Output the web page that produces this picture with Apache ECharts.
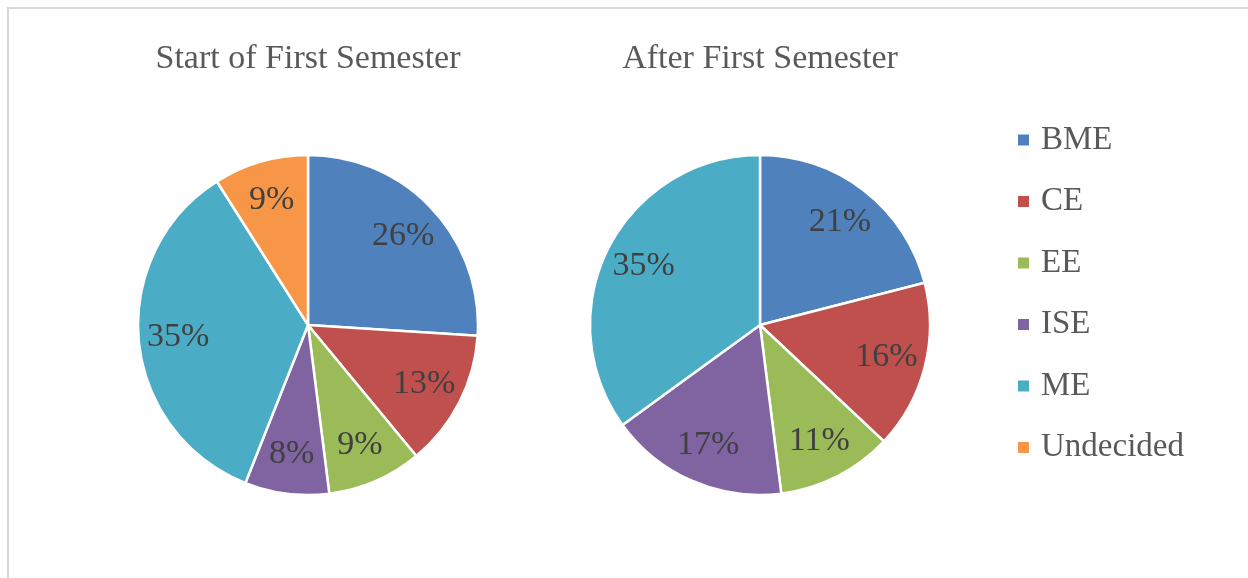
<!DOCTYPE html>
<html>
<head>
<meta charset="utf-8">
<script src="https://cdn.jsdelivr.net/npm/echarts@6/dist/echarts.min.js"></script>
<style>
  body { margin: 0; background: #fff; overflow: hidden; }
  #frame { position: absolute; left: 7px; top: 7px; width: 1400px; height: 700px;
           border-top: 2px solid #d9d9d9; border-left: 2px solid #d9d9d9; }
  #chart { position: absolute; left: 0; top: 0; width: 1248px; height: 578px; }
</style>
</head>
<body>
<div id="frame"></div>
<div id="chart"></div>
<script>
// majors and shares (percent)
var majors = ['BME', 'CE', 'EE', 'ISE', 'ME', 'Undecided'];
var startVals = [26, 13, 9, 8, 35, 9];
var afterVals = [21, 16, 11, 17, 35, 0];
var titles = ['Start of First Semester', 'After First Semester'];
var colors = ['#4F81BD', '#C0504D', '#9BBB59', '#8064A2', '#4BACC6', '#F79646'];

function toData(vals) {
	var out = [];
	for (var i = 0; i < majors.length; i++) {
		if (vals[i] > 0) {
			out.push({ name: majors[i], value: vals[i], itemStyle: { color: colors[i] } });
		}
	}
	return out;
}

var font = 'Liberation Serif';
var pieR = 170;

function pieSeries(vals, cx) {
	return {
		type: 'pie',
		center: [cx, 325],
		radius: [0, pieR],
		startAngle: 90,
		clockwise: true,
		label: { show: false },
		labelLine: { show: false },
		itemStyle: { borderColor: '#fff', borderWidth: 2.5 },
		emphasis: { disabled: true },
		data: toData(vals)
	};
}

// transparent ring just to put the labels at ~3/4 radius like the original
function labelSeries(vals, cx) {
	var d = toData(vals).map(function (p) {
		return { name: p.name, value: p.value, itemStyle: { color: 'rgba(0,0,0,0)' } };
	});
	return {
		type: 'pie',
		center: [cx, 325],
		radius: [pieR * 0.5, pieR],
		startAngle: 90,
		silent: true,
		label: {
			show: true,
			position: 'inside',
			formatter: '{c}%',
			color: '#404040',
			fontFamily: font,
			fontSize: 34
		},
		labelLine: { show: false },
		emphasis: { disabled: true },
		data: d
	};
}

var chart = echarts.init(document.getElementById('chart'));
var option = {
	animation: false,
	color: colors,
	title: [
		{ text: titles[0], left: 303, top: 37, textAlign: 'center',
		  textStyle: { fontFamily: font, fontSize: 34, fontWeight: 'normal', color: '#595959' } },
		{ text: titles[1], left: 755, top: 37, textAlign: 'center',
		  textStyle: { fontFamily: font, fontSize: 34, fontWeight: 'normal', color: '#595959' } }
	],
	legend: {
		orient: 'vertical',
		left: 1016,
		top: 120,
		padding: 0,
		icon: 'rect',
		itemWidth: 13,
		itemHeight: 13,
		itemGap: 21.5,
		selectedMode: false,
		data: majors,
		textStyle: { fontFamily: font, fontSize: 33, color: '#595959', lineHeight: 40, padding: [0, 0, 0, 6] }
	},
	series: [
		pieSeries(startVals, 308),
		pieSeries(afterVals, 760),
		labelSeries(startVals, 308),
		labelSeries(afterVals, 760)
	]
};
chart.setOption(option);
</script>
</body>
</html>
